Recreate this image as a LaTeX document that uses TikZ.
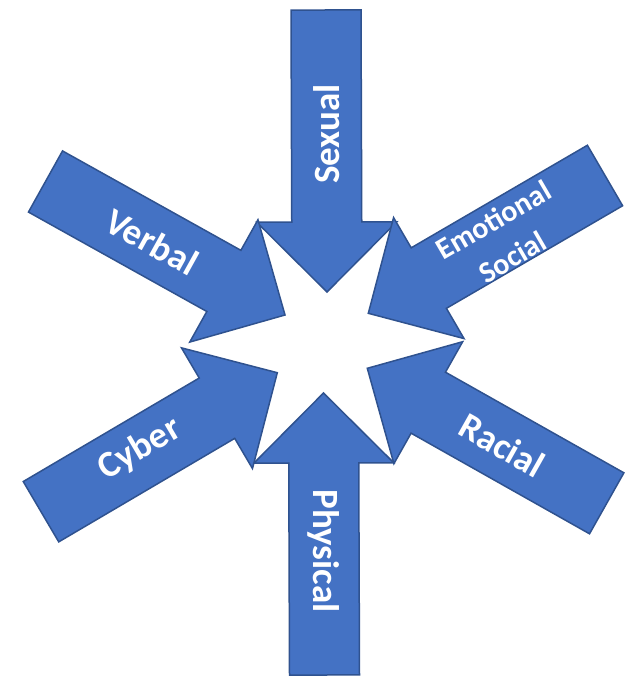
\documentclass[tikz,border=0pt]{standalone}
\usepackage{fontspec}
\setmainfont{Carlito}
\usetikzlibrary{calc}
\definecolor{afill}{HTML}{4472C4}
\definecolor{aline}{HTML}{2F528F}
\tikzset{
  bigarrow/.style={fill=afill,draw=aline,line width=1.5pt,line join=miter},
  lbl/.style={text=white,font=\bfseries\fontsize{37}{40}\selectfont,inner sep=0pt},
  lblsmall/.style={lbl,font=\bfseries\fontsize{30}{34}\selectfont}
}
\newcommand\bigarr[3]{%
  \coordinate (#1t) at #2;
  \coordinate (#1b) at #3;
  \coordinate (#1h) at ($(#1t)!70pt!(#1b)$);
  \draw[bigarrow] ($(#1b)!35pt!90:(#1t)$) -- ($(#1h)!35pt!90:(#1t)$)
    -- ($(#1h)!70pt!90:(#1t)$) -- (#1t) -- ($(#1h)!70pt!-90:(#1t)$)
    -- ($(#1h)!35pt!-90:(#1t)$) -- ($(#1b)!35pt!-90:(#1t)$) -- cycle;
}
\begin{document}
\begin{tikzpicture}[x=1pt,y=-1pt]
\useasboundingbox (0,0) rectangle (628,676);
\bigarr{sx}{(327,292)}{(326,10)}
\bigarr{ph}{(323.5,393)}{(324.5,675)}
\bigarr{vb}{(285,315)}{(45.5,181.5)}
\bigarr{cy}{(277.3,372.7)}{(41,511.7)}
\bigarr{em}{(368.3,313.3)}{(605,175.5)}
\bigarr{rc}{(367.3,368.3)}{(606.7,503.3)}
\node[lbl,rotate=90] (sxl) at (327,134) {Sexual};
\node[lbl,rotate=-90] (phl) at (323.5,551) {Physical};
\node[lbl,rotate=-29] (vbl) at (152,242) {Verbal};
\node[lbl,rotate=30.5] (cyl) at (140,449) {Cyber};
\node[lbl,rotate=-29.4] (rcl) at (502,445) {Racial};
\node[lblsmall,rotate=30.2] (eml1) at (493.5,220) {Emotional};
\node[lblsmall,rotate=30.2] (eml2) at (512.5,257) {Social};
\end{tikzpicture}
\end{document}
